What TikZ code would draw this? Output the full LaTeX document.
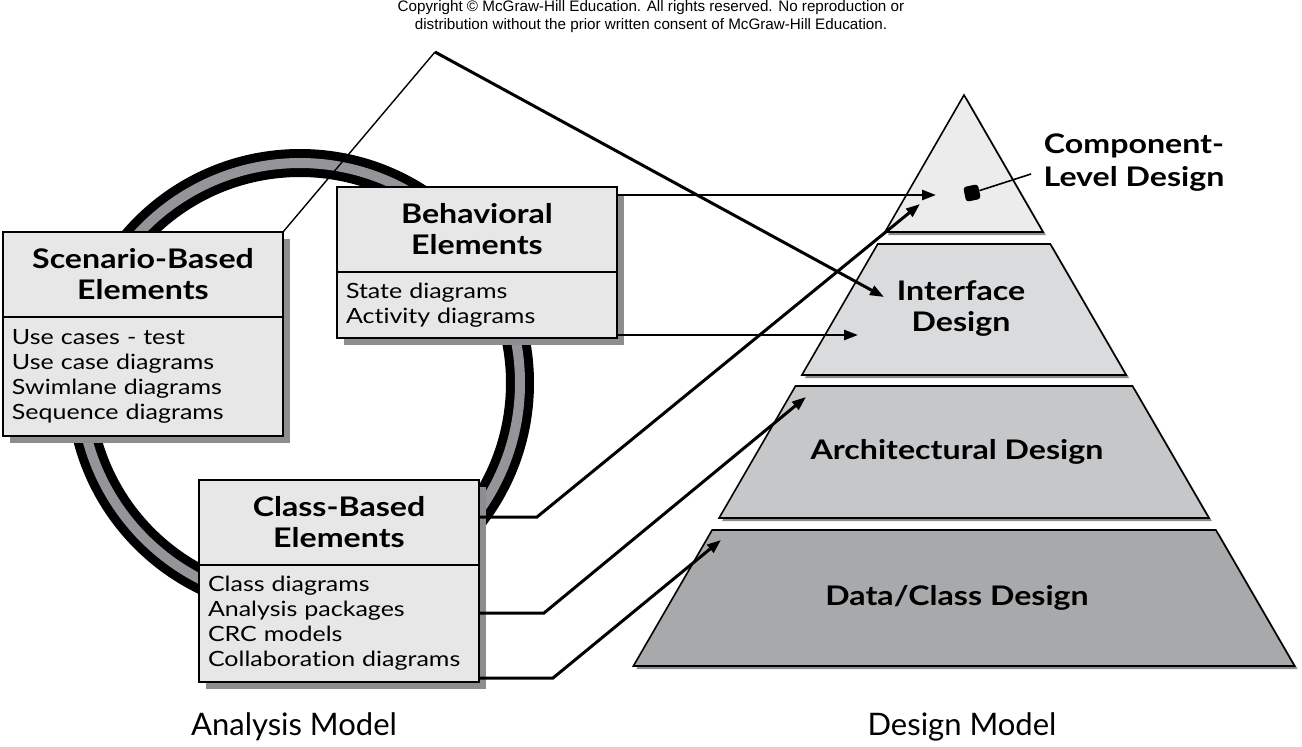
\documentclass[tikz,border=0pt]{standalone}
\usepackage{fontspec}
\setmainfont{Lato}[FakeStretch=1.19, Ligatures=NoCommon]
\newfontfamily\captionfont{Lato}[Ligatures=NoCommon]
\newfontfamily\copyfont{Liberation Sans}
\usetikzlibrary{positioning,arrows.meta,shadows}

\pgfdeclarelayer{shade}
\pgfsetlayers{shade,main}

\definecolor{boxfill}{HTML}{E7E7E8}
\definecolor{shadowgray}{HTML}{8C8D8F}
\definecolor{ringgray}{HTML}{939598}
\definecolor{layertop}{HTML}{ECECED}
\definecolor{layeriface}{HTML}{DADBDC}
\definecolor{layerarch}{HTML}{C6C7C9}
\definecolor{layerdata}{HTML}{A8A9AB}

\tikzset{
  elemtitle/.style={draw, line width=1.4pt, fill=boxfill, inner xsep=9pt, inner ysep=0pt, outer sep=0pt,
    text width=262pt, minimum height=85pt, align=center, font=\fontsize{27}{31}\selectfont\bfseries},
  elembody/.style={draw, line width=1.4pt, fill=boxfill, inner xsep=9pt, inner ysep=0pt, outer sep=0pt,
    text width=262pt, align=left, font=\fontsize{21}{25}\selectfont},
  layer/.style={draw, line width=1.6pt, drop shadow={shadow xshift=3pt, shadow yshift=-3pt, fill=shadowgray, opacity=1}},
  layerlabel/.style={align=center, font=\fontsize{27}{31}\selectfont\bfseries},
  link/.style={line width=3pt},
  thinlink/.style={line width=1.4pt},
  linkarrow/.style={link, -{Triangle[length=14pt, width=10pt]}},
  modellabel/.style={font=\captionfont\fontsize{31}{34}\selectfont}
}

\begin{document}
\begin{tikzpicture}[x=1pt, y=-1pt]
    \useasboundingbox (0,0) rectangle (1302,747);

    % copyright line
    \node[font=\copyfont\fontsize{15.2}{18}\selectfont, align=center] (copy) at (651,17)
        {Copyright \textcopyright{} McGraw-Hill Education. All rights reserved. No reproduction or\\
         distribution without the prior written consent of McGraw-Hill Education.};

    % ring behind the analysis elements
    \begin{pgfonlayer}{shade}
        \draw[line width=28pt] (300,383) circle[radius=220];
        \draw[ringgray, line width=10pt] (300,383) circle[radius=220];
    \end{pgfonlayer}

    % analysis model elements
    \node[elemtitle, anchor=north west] (scenT) at (3,232) {Scenario-Based\\Elements};
    \node[elembody, minimum height=119pt, below=0pt of scenT] (scenB)
        {Use cases - test\\Use case diagrams\\Swimlane diagrams\\Sequence diagrams};

    \node[elemtitle, anchor=north west] (behT) at (337,187) {Behavioral\\Elements};
    \node[elembody, minimum height=66pt, below=0pt of behT] (behB)
        {State diagrams\\Activity diagrams};

    \node[elemtitle, anchor=north west] (clsT) at (199,480) {Class-Based\\Elements};
    \node[elembody, minimum height=117pt, below=0pt of clsT] (clsB)
        {Class diagrams\\Analysis packages\\CRC models\\Collaboration diagrams};

    % box shadows, above the ring
    \begin{pgfonlayer}{shade}
        \foreach \top/\bot in {scenT/scenB, behT/behB, clsT/clsB} {
            \fill[shadowgray] ([shift={(7pt,-7pt)}]\top.north west) rectangle ([shift={(7pt,-7pt)}]\bot.south east);
        }
    \end{pgfonlayer}

    % design model pyramid
    \draw[layer, fill=layertop] (964,95) -- (1043,232) -- (885,232) -- cycle;
    \foreach \ya/\yb/\col in {244/375/layeriface, 386/518/layerarch, 530/666/layerdata} {
        \draw[layer, fill=\col] ({964-0.579*(\ya-95)},\ya) -- ({964+0.579*(\ya-95)},\ya)
            -- ({964+0.579*(\yb-95)},\yb) -- ({964-0.579*(\yb-95)},\yb) -- cycle;
    }
    \node[layerlabel] (iface) at (961,309) {Interface\\Design};
    \node[layerlabel] (arch) at (957,452) {Architectural Design};
    \node[layerlabel] (data) at (957,598) {Data/Class Design};

    % component level marker
    \node[fill=black, rounded corners=3pt, minimum size=15pt, inner sep=0pt, rotate=12] (cdot) at (972,193) {};
    \node[layerlabel, font=\fontsize{27}{33}\selectfont\bfseries] (cmp) at (1134,163) {Component-\\Level Design};
    \coordinate (cend) at (1031,174);
    \draw[line width=1.6pt] (cdot) -- (cend);

    % connectors
    \coordinate (peak) at (435,52);
    \coordinate (ifaceA) at (884,297);
    \coordinate (ifaceB) at (858,335);
    \coordinate (cmpA) at (936,195);
    \coordinate (cmpB) at (920,204);
    \coordinate (archA) at (806,397);
    \coordinate (dataA) at (721,540);
    \coordinate (bendA) at (537,517);
    \coordinate (bendB) at (544,613);
    \coordinate (bendC) at (553,678);

    \draw[thinlink] (scenT.north east) -- (peak);
    \draw[linkarrow] (peak) -- (ifaceA);
    \draw[linkarrow, line width=2.6pt] (cmpA -| behT.east) -- (cmpA);
    \draw[linkarrow, line width=2.6pt] (ifaceB -| behB.east) -- (ifaceB);
    \draw[linkarrow] (bendA -| clsT.east) -- (bendA) -- (cmpB);
    \draw[linkarrow] (bendB -| clsB.east) -- (bendB) -- (archA);
    \draw[linkarrow] (bendC -| clsB.east) -- (bendC) -- (dataA);

    % model captions
    \node[modellabel] (anamod) at (294,727) {Analysis Model};
    \node[modellabel] (desmod) at (962,727) {Design Model};
\end{tikzpicture}
\end{document}
